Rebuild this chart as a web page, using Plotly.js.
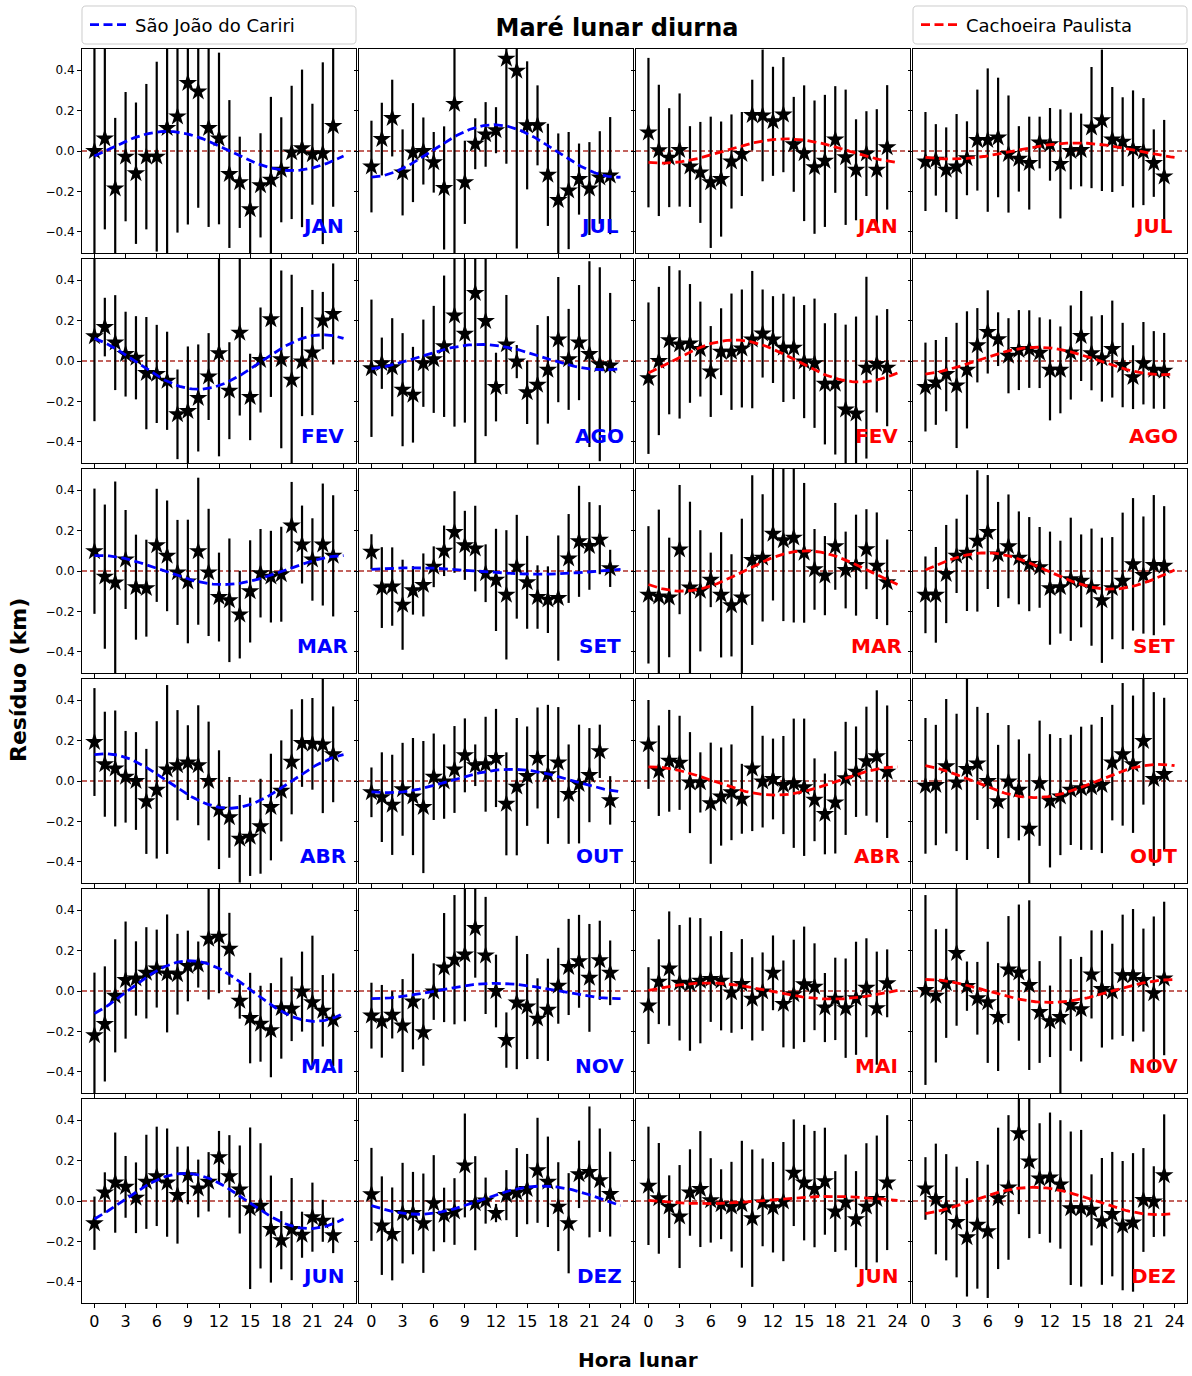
<!DOCTYPE html>
<html>
<head>
<meta charset="utf-8">
<script src="https://cdn.plot.ly/plotly-3.0.1.min.js"></script>
<style>
  html, body { margin: 0; padding: 0; background: #ffffff; }
  #chart { width: 1192px; height: 1376px; }
</style>
</head>
<body>
<div id="chart"></div>
<script>
// ---------- categories and tick labels ----------
const hours = [0,1,2,3,4,5,6,7,8,9,10,11,12,13,14,15,16,17,18,19,20,21,22,23];
const xTickVals = [0,3,6,9,12,15,18,21,24];
const yTickVals = [-0.4,-0.2,0.0,0.2,0.4];
const months = ['JAN','FEV','MAR','ABR','MAI','JUN','JUL','AGO','SET','OUT','NOV','DEZ'];
const stationNames = ['São João do Cariri','Cachoeira Paulista'];

// ---------- São João do Cariri: hourly residuals (km) and uncertainties ----------
const sjc_JAN = [0.00,0.062,-0.186,-0.028,-0.11,-0.028,-0.028,0.114,0.171,0.336,0.294,0.114,0.062,-0.114,-0.155,-0.289,-0.17,-0.142,-0.093,-0.007,0.013,-0.016,-0.011,0.124];
const sjc_JAN_err = [0.55,0.45,0.35,0.32,0.35,0.36,0.47,0.65,0.575,0.70,0.575,0.49,0.425,0.366,0.226,0.23,0.258,0.41,0.26,0.33,0.39,0.25,0.45,0.40];
const sjc_FEV = [0.122,0.168,0.091,0.034,0.016,-0.06,-0.064,-0.098,-0.264,-0.248,-0.183,-0.077,0.038,-0.147,0.14,-0.178,0.005,0.206,0.008,-0.093,-0.003,0.042,0.20,0.233];
const sjc_FEV_err = [0.42,0.145,0.235,0.21,0.206,0.278,0.243,0.243,0.222,0.32,0.265,0.215,0.51,0.24,0.41,0.214,0.26,0.384,0.44,0.52,0.27,0.31,0.142,0.25];
const sjc_MAR = [0.098,-0.028,-0.057,0.057,-0.08,-0.085,0.127,0.075,-0.007,-0.052,0.098,-0.007,-0.129,-0.145,-0.216,-0.101,-0.011,-0.028,-0.016,0.225,0.131,0.057,0.131,0.075];
const sjc_MAR_err = [0.31,0.357,0.50,0.245,0.26,0.24,0.28,0.274,0.26,0.306,0.364,0.315,0.22,0.306,0.217,0.253,0.219,0.227,0.235,0.216,0.193,0.204,0.302,0.30];
const sjc_ABR = [0.193,0.083,0.062,0.021,0.0,-0.101,-0.044,0.057,0.078,0.091,0.078,0.0,-0.142,-0.18,-0.286,-0.276,-0.224,-0.129,-0.049,0.095,0.188,0.184,0.181,0.132];
const sjc_ABR_err = [0.267,0.26,0.287,0.227,0.242,0.26,0.34,0.418,0.273,0.185,0.297,0.294,0.294,0.2,0.217,0.194,0.235,0.264,0.25,0.26,0.217,0.227,0.34,0.237];
const sjc_MAI = [-0.219,-0.163,-0.024,0.054,0.062,0.09,0.111,0.087,0.083,0.124,0.131,0.258,0.269,0.209,-0.049,-0.134,-0.162,-0.194,-0.085,-0.088,-0.003,-0.056,-0.098,-0.142];
const sjc_MAI_err = [0.31,0.285,0.28,0.29,0.184,0.226,0.193,0.292,0.2,0.175,0.114,0.30,0.28,0.178,0.088,0.224,0.188,0.233,0.25,0.16,0.198,0.33,0.177,0.229];
const sjc_JUN = [-0.11,0.042,0.091,0.07,0.016,0.095,0.122,0.091,0.029,0.127,0.062,0.095,0.217,0.122,0.057,-0.036,-0.024,-0.139,-0.194,-0.139,-0.167,-0.08,-0.098,-0.17];
const sjc_JUN_err = [0.132,0.10,0.248,0.153,0.175,0.233,0.246,0.268,0.24,0.143,0.143,0.147,0.13,0.204,0.218,0.40,0.31,0.265,0.144,0.253,0.114,0.171,0.104,0.088];
const sjc_JUL = [-0.077,0.059,0.163,-0.106,-0.008,0.0,-0.056,-0.183,0.233,-0.155,0.036,0.082,0.103,0.457,0.397,0.127,0.127,-0.118,-0.243,-0.196,-0.139,-0.186,-0.131,-0.122];
const sjc_JUL_err = [0.227,0.18,0.19,0.213,0.245,0.166,0.15,0.305,0.75,0.206,0.126,0.16,0.114,0.52,0.88,0.317,0.198,0.253,0.33,0.29,0.176,0.23,0.229,0.29];
const sjc_AGO = [-0.036,-0.011,-0.031,-0.142,-0.167,-0.011,0.008,0.073,0.225,0.135,0.336,0.198,-0.129,0.082,-0.003,-0.155,-0.118,-0.044,0.106,0.008,0.091,0.034,-0.016,-0.023];
const sjc_AGO_err = [0.34,0.127,0.243,0.28,0.237,0.216,0.265,0.35,0.55,0.44,0.85,0.57,0.17,0.245,0.082,0.157,0.296,0.266,0.31,0.25,0.285,0.46,0.48,0.36];
const sjc_SET = [0.095,-0.082,-0.077,-0.167,-0.096,-0.069,0.021,0.10,0.193,0.127,0.111,-0.011,-0.044,-0.118,0.021,-0.056,-0.129,-0.142,-0.134,0.062,0.147,0.124,0.155,0.013];
const sjc_SET_err = [0.087,0.20,0.194,0.223,0.12,0.156,0.101,0.125,0.202,0.171,0.212,0.143,0.253,0.32,0.257,0.23,0.157,0.165,0.31,0.22,0.275,0.217,0.171,0.092];
const sjc_OUT = [-0.056,-0.08,-0.118,-0.041,-0.077,-0.129,0.021,-0.003,0.057,0.127,0.078,0.083,0.114,-0.113,-0.028,0.024,0.114,0.033,0.091,-0.065,-0.015,0.029,0.147,-0.096];
const sjc_OUT_err = [0.123,0.222,0.248,0.23,0.29,0.327,0.214,0.184,0.215,0.183,0.103,0.235,0.243,0.255,0.34,0.246,0.25,0.344,0.275,0.246,0.294,0.233,0.132,0.12];
const sjc_NOV = [-0.122,-0.15,-0.118,-0.171,-0.052,-0.204,-0.003,0.116,0.155,0.18,0.312,0.176,0.0,-0.243,-0.057,-0.077,-0.137,-0.093,0.026,0.119,0.147,0.065,0.152,0.09];
const sjc_NOV_err = [0.163,0.18,0.117,0.23,0.237,0.166,0.14,0.27,0.32,0.33,0.246,0.29,0.18,0.137,0.33,0.26,0.2,0.253,0.188,0.238,0.23,0.267,0.196,0.16];
const sjc_DEZ = [0.033,-0.122,-0.163,-0.06,-0.06,-0.11,-0.011,-0.069,-0.052,0.176,-0.011,0.002,-0.06,0.029,0.042,0.059,0.152,0.095,-0.028,-0.11,0.132,0.144,0.103,0.034];
const sjc_DEZ_err = [0.23,0.244,0.23,0.249,0.204,0.246,0.238,0.135,0.165,0.257,0.233,0.114,0.045,0.124,0.22,0.174,0.26,0.224,0.22,0.248,0.167,0.324,0.256,0.21];

// ---------- Cachoeira Paulista: hourly residuals (km) and uncertainties ----------
const cp_JAN = [0.091,0.003,-0.033,0.005,-0.077,-0.106,-0.155,-0.139,-0.052,-0.015,0.178,0.176,0.147,0.18,0.033,-0.011,-0.08,-0.049,0.057,-0.031,-0.093,-0.013,-0.093,0.018];
const cp_JAN_err = [0.37,0.325,0.245,0.28,0.20,0.25,0.325,0.285,0.233,0.208,0.175,0.326,0.27,0.285,0.235,0.336,0.33,0.327,0.264,0.335,0.25,0.21,0.30,0.308];
const cp_FEV = [-0.085,0.0,0.103,0.082,0.087,0.059,-0.052,0.046,0.046,0.062,0.106,0.136,0.106,0.065,0.065,-0.003,-0.011,-0.113,-0.113,-0.24,-0.26,-0.033,-0.015,-0.033];
const cp_FEV_err = [0.375,0.367,0.367,0.367,0.294,0.235,0.225,0.215,0.288,0.292,0.34,0.218,0.215,0.268,0.254,0.28,0.32,0.30,0.35,0.42,0.48,0.45,0.24,0.29];
const cp_MAR = [-0.118,-0.126,-0.131,0.106,-0.082,-0.098,-0.044,-0.118,-0.17,-0.131,0.054,0.065,0.184,0.152,0.165,0.09,0.008,-0.023,0.122,0.005,0.029,0.108,0.026,-0.056];
const cp_MAR_err = [0.34,0.43,0.296,0.32,0.425,0.30,0.135,0.31,0.253,0.39,0.42,0.315,0.33,0.40,0.42,0.346,0.20,0.196,0.215,0.19,0.25,0.198,0.264,0.212];
const cp_ABR = [0.181,0.051,0.10,0.09,-0.008,-0.007,-0.11,-0.077,-0.056,-0.088,0.062,-0.003,0.01,-0.02,-0.011,-0.031,-0.093,-0.163,-0.106,0.013,0.046,0.098,0.122,0.046];
const cp_ABR_err = [0.22,0.224,0.252,0.233,0.25,0.149,0.30,0.243,0.237,0.173,0.31,0.227,0.20,0.243,0.32,0.34,0.205,0.20,0.253,0.28,0.224,0.27,0.327,0.328];
const cp_MAI = [-0.072,0.046,0.111,0.041,0.034,0.051,0.059,0.051,-0.007,0.034,-0.039,-0.003,0.09,-0.064,-0.016,0.033,0.021,-0.082,-0.039,-0.085,-0.036,0.016,-0.085,0.038];
const cp_MAI_err = [0.19,0.21,0.283,0.286,0.33,0.31,0.212,0.246,0.2,0.223,0.206,0.194,0.185,0.215,0.27,0.286,0.215,0.171,0.204,0.246,0.28,0.245,0.28,0.168];
const cp_JUN = [0.075,0.013,-0.028,-0.077,0.042,0.059,0.003,-0.016,-0.028,-0.016,-0.085,-0.007,-0.031,-0.003,0.14,0.091,0.059,0.098,-0.052,-0.007,-0.09,-0.028,0.01,0.091];
const cp_JUN_err = [0.293,0.274,0.155,0.255,0.214,0.287,0.209,0.173,0.222,0.314,0.34,0.217,0.224,0.295,0.264,0.286,0.288,0.265,0.2,0.237,0.238,0.314,0.314,0.334];
const cp_JUL = [-0.052,-0.044,-0.093,-0.077,-0.036,0.054,0.054,0.067,-0.015,-0.039,-0.06,0.042,0.033,-0.064,0.0,0.005,0.116,0.152,0.057,0.046,0.01,-0.003,-0.06,-0.126];
const cp_JUL_err = [0.245,0.177,0.21,0.26,0.183,0.25,0.355,0.296,0.29,0.162,0.23,0.128,0.18,0.27,0.19,0.18,0.30,0.35,0.26,0.22,0.29,0.265,0.167,0.28];
const cp_AGO = [-0.129,-0.106,-0.065,-0.121,-0.044,0.078,0.144,0.108,0.026,0.054,0.059,0.041,-0.044,-0.044,0.042,0.124,0.038,0.013,0.059,-0.02,-0.08,-0.011,-0.044,-0.049];
const cp_AGO_err = [0.22,0.21,0.184,0.31,0.29,0.184,0.206,0.133,0.186,0.198,0.192,0.175,0.25,0.215,0.233,0.223,0.183,0.214,0.24,0.209,0.158,0.204,0.192,0.188];
const cp_SET = [-0.118,-0.118,-0.015,0.075,0.09,0.149,0.193,0.082,0.122,0.065,0.034,0.018,-0.085,-0.08,-0.041,-0.049,-0.08,-0.145,-0.085,-0.049,0.033,-0.02,0.029,0.026];
const cp_SET_err = [0.19,0.237,0.243,0.184,0.288,0.35,0.282,0.26,0.257,0.23,0.233,0.20,0.28,0.23,0.305,0.23,0.29,0.31,0.253,0.338,0.328,0.29,0.347,0.295];
const cp_OUT = [-0.024,-0.02,0.073,-0.007,0.059,0.087,0.0,-0.101,-0.003,-0.044,-0.237,-0.011,-0.098,-0.077,-0.044,-0.036,-0.031,-0.02,0.091,0.132,0.083,0.198,0.01,0.034];
const cp_OUT_err = [0.336,0.298,0.333,0.34,0.45,0.28,0.337,0.28,0.28,0.25,0.372,0.31,0.33,0.29,0.273,0.305,0.31,0.337,0.286,0.353,0.34,0.315,0.43,0.378];
const cp_NOV = [0.005,-0.024,0.038,0.188,0.024,-0.036,-0.056,-0.129,0.106,0.091,0.029,-0.104,-0.15,-0.129,-0.069,-0.09,0.082,0.01,-0.003,0.078,0.078,0.054,-0.011,0.062];
const cp_NOV_err = [0.47,0.33,0.27,0.36,0.122,0.18,0.30,0.267,0.265,0.337,0.42,0.252,0.177,0.40,0.227,0.259,0.218,0.29,0.237,0.30,0.328,0.255,0.38,0.38];
const cp_DEZ = [0.062,0.01,-0.031,-0.104,-0.18,-0.118,-0.15,0.013,0.067,0.335,0.196,0.111,0.116,0.082,-0.036,-0.036,-0.044,-0.101,-0.065,-0.122,-0.106,0.005,-0.003,0.127];
const cp_DEZ_err = [0.155,0.274,0.263,0.274,0.293,0.316,0.33,0.35,0.358,0.40,0.38,0.274,0.322,0.318,0.38,0.388,0.176,0.314,0.308,0.32,0.343,0.257,0.175,0.302];

// ---------- diurnal harmonic fits: mean + amplitude (km) and hour of maximum ----------
const sjcAmp    = [0.097,0.135,0.072,0.135,0.150,0.137,0.130,0.063,0.016,0.058,0.038,0.070];
const sjcPeakHr = [7.0,22.0,0.4,1.0,9.2,8.7,11.8,10.5,4.0,13.5,12.0,16.5];
const sjcMean   = [0.0,-0.005,0.005,0.0,0.0,0.0,0.0,0.019,0.0,0.0,0.0,0.004];
const cpAmp     = [0.060,0.104,0.100,0.070,0.040,0.018,0.040,0.068,0.090,0.082,0.057,0.068];
const cpPeakHr  = [13.3,8.3,15.2,0.2,5.7,17.5,14.5,10.8,5.8,22.5,0.0,10.4];
const cpMean    = [0.0,0.0,0.0,0.0,0.0,0.005,0.0,0.0,0.0,0.0,0.0,0.0];

// ---------- assemble per-station lookups ----------
const stations = [
  { name: stationNames[0], color: '#0000ff',
    vals: [sjc_JAN,sjc_FEV,sjc_MAR,sjc_ABR,sjc_MAI,sjc_JUN,sjc_JUL,sjc_AGO,sjc_SET,sjc_OUT,sjc_NOV,sjc_DEZ],
    errs: [sjc_JAN_err,sjc_FEV_err,sjc_MAR_err,sjc_ABR_err,sjc_MAI_err,sjc_JUN_err,sjc_JUL_err,sjc_AGO_err,sjc_SET_err,sjc_OUT_err,sjc_NOV_err,sjc_DEZ_err],
    amp: sjcAmp, peak: sjcPeakHr, mean: sjcMean, legend: 'legend' },
  { name: stationNames[1], color: '#ff0000',
    vals: [cp_JAN,cp_FEV,cp_MAR,cp_ABR,cp_MAI,cp_JUN,cp_JUL,cp_AGO,cp_SET,cp_OUT,cp_NOV,cp_DEZ],
    errs: [cp_JAN_err,cp_FEV_err,cp_MAR_err,cp_ABR_err,cp_MAI_err,cp_JUN_err,cp_JUL_err,cp_AGO_err,cp_SET_err,cp_OUT_err,cp_NOV_err,cp_DEZ_err],
    amp: cpAmp, peak: cpPeakHr, mean: cpMean, legend: 'legend2' }
];

// ---------- page geometry (pixels) ----------
const W = 1192, H = 1376;
const colPx = [[82,356],[359,633],[636,910],[913,1187]];
const rowPx = [[49,253],[259,463],[469,673],[679,883],[889,1093],[1099,1303]];
const FONT = 'DejaVu Sans, Liberation Sans, sans-serif';

// evaluation grid for the fitted curve
const tFit = [];
for (let t = 0; t <= 24.0001; t += 0.2) tFit.push(+t.toFixed(2));

const traces = [];
const shapes = [];
const annotations = [];
const layout = {
  width: W, height: H,
  margin: { l: 0, r: 0, t: 0, b: 0 },
  paper_bgcolor: '#ffffff', plot_bgcolor: '#ffffff',
  font: { family: FONT, color: '#000000' },
  showlegend: true
};

for (let r = 0; r < 6; r++) {
  for (let c = 0; c < 4; c++) {
    const k = r * 4 + c + 1;
    const st = stations[c < 2 ? 0 : 1];
    const m = r + (c % 2) * 6;
    const xa = 'x' + k, ya = 'y' + k;

    // points with error bars
    traces.push({
      type: 'scatter', mode: 'markers',
      x: hours, y: st.vals[m],
      error_y: { type: 'data', array: st.errs[m], visible: true, color: '#000000', thickness: 2.2, width: 0 },
      marker: { symbol: 'star', size: 14, color: '#000000' },
      xaxis: xa, yaxis: ya, showlegend: false, hoverinfo: 'skip'
    });

    // fitted diurnal harmonic
    const A = st.amp[m], ph = st.peak[m], c0 = st.mean[m];
    traces.push({
      type: 'scatter', mode: 'lines',
      x: tFit, y: tFit.map(t => c0 + A * Math.cos(2 * Math.PI * (t - ph) / 24)),
      line: { color: st.color, width: 2.8, dash: '9px,4.5px' },
      name: st.name, legend: st.legend,
      showlegend: (r === 0 && (c === 0 || c === 2)),
      xaxis: xa, yaxis: ya, hoverinfo: 'skip'
    });

    const sfx = k === 1 ? '' : String(k);
    layout['xaxis' + sfx] = {
      domain: [colPx[c][0] / W, colPx[c][1] / W],
      anchor: ya, range: [-1.2, 25.2],
      tickmode: 'array', tickvals: xTickVals, ticktext: xTickVals.map(String),
      showticklabels: r === 5,
      ticks: 'outside', ticklen: 4, tickwidth: 1, tickcolor: '#000000',
      tickfont: { family: FONT, size: 16, color: '#000000' },
      showline: true, mirror: true, linecolor: '#000000', linewidth: 1,
      showgrid: false, zeroline: false, fixedrange: true
    };
    layout['yaxis' + sfx] = {
      domain: [1 - rowPx[r][1] / H, 1 - rowPx[r][0] / H],
      anchor: xa, range: [-0.505, 0.505],
      tickmode: 'array', tickvals: yTickVals, tickformat: '.1f',
      showticklabels: c === 0,
      ticks: 'outside', ticklen: 4, tickwidth: 1, tickcolor: '#000000',
      tickfont: { family: FONT, size: 12, color: '#000000' },
      showline: true, mirror: true, linecolor: '#000000', linewidth: 1,
      showgrid: false, zeroline: false, fixedrange: true
    };

    // zero reference line
    shapes.push({
      type: 'line', layer: 'below',
      xref: xa + ' domain', x0: 0, x1: 1,
      yref: ya, y0: 0, y1: 0,
      line: { color: '#b03028', width: 1.5, dash: '5px,3px' }
    });

    // month label, centred near the lower right corner
    annotations.push({
      xref: xa, yref: ya,
      x: 22, y: -0.37, xanchor: 'center', yanchor: 'middle',
      text: '<b>' + months[m] + '</b>', showarrow: false,
      font: { family: FONT, size: 20, color: st.color }
    });
  }
}

// legend frames
function roundedBox(x0, y0, x1, y1, rad) {
  const X = v => (v / W).toFixed(5), Y = v => (1 - v / H).toFixed(5);
  return 'M' + X(x0 + rad) + ',' + Y(y0) +
    ' L' + X(x1 - rad) + ',' + Y(y0) + ' Q' + X(x1) + ',' + Y(y0) + ' ' + X(x1) + ',' + Y(y0 + rad) +
    ' L' + X(x1) + ',' + Y(y1 - rad) + ' Q' + X(x1) + ',' + Y(y1) + ' ' + X(x1 - rad) + ',' + Y(y1) +
    ' L' + X(x0 + rad) + ',' + Y(y1) + ' Q' + X(x0) + ',' + Y(y1) + ' ' + X(x0) + ',' + Y(y1 - rad) +
    ' L' + X(x0) + ',' + Y(y0 + rad) + ' Q' + X(x0) + ',' + Y(y0) + ' ' + X(x0 + rad) + ',' + Y(y0) + ' Z';
}
shapes.push({ type: 'path', xref: 'paper', yref: 'paper', path: roundedBox(82, 6, 356, 44, 4),
  line: { color: '#cccccc', width: 1 }, fillcolor: 'rgba(255,255,255,0.8)' });
shapes.push({ type: 'path', xref: 'paper', yref: 'paper', path: roundedBox(913, 6, 1187, 44, 4),
  line: { color: '#cccccc', width: 1 }, fillcolor: 'rgba(255,255,255,0.8)' });

layout.legend = {
  x: 85 / W, y: 1 - 25 / H, xanchor: 'left', yanchor: 'middle',
  bgcolor: 'rgba(0,0,0,0)', borderwidth: 0, itemwidth: 40,
  font: { family: FONT, size: 18, color: '#000000' }
};
layout.legend2 = {
  x: 916 / W, y: 1 - 25 / H, xanchor: 'left', yanchor: 'middle',
  bgcolor: 'rgba(0,0,0,0)', borderwidth: 0, itemwidth: 40,
  font: { family: FONT, size: 18, color: '#000000' }
};

// figure title and shared axis labels
layout.title = {
  text: '<b>Maré lunar diurna</b>',
  x: 617 / W, y: 1 - 28 / H, xanchor: 'center', yanchor: 'middle',
  xref: 'paper', yref: 'paper',
  font: { family: FONT, size: 24, color: '#000000' }
};
annotations.push({
  xref: 'paper', yref: 'paper', x: 18 / W, y: 1 - 680 / H,
  xanchor: 'center', yanchor: 'middle', textangle: -90,
  text: '<b>Resíduo (km)</b>', showarrow: false,
  font: { family: FONT, size: 22, color: '#000000' }
});
annotations.push({
  xref: 'paper', yref: 'paper', x: 638 / W, y: 1 - 1360 / H,
  xanchor: 'center', yanchor: 'middle',
  text: '<b>Hora lunar</b>', showarrow: false,
  font: { family: FONT, size: 20, color: '#000000' }
});

layout.shapes = shapes;
layout.annotations = annotations;

Plotly.newPlot('chart', traces, layout, { displayModeBar: false, staticPlot: true });
</script>
</body>
</html>
